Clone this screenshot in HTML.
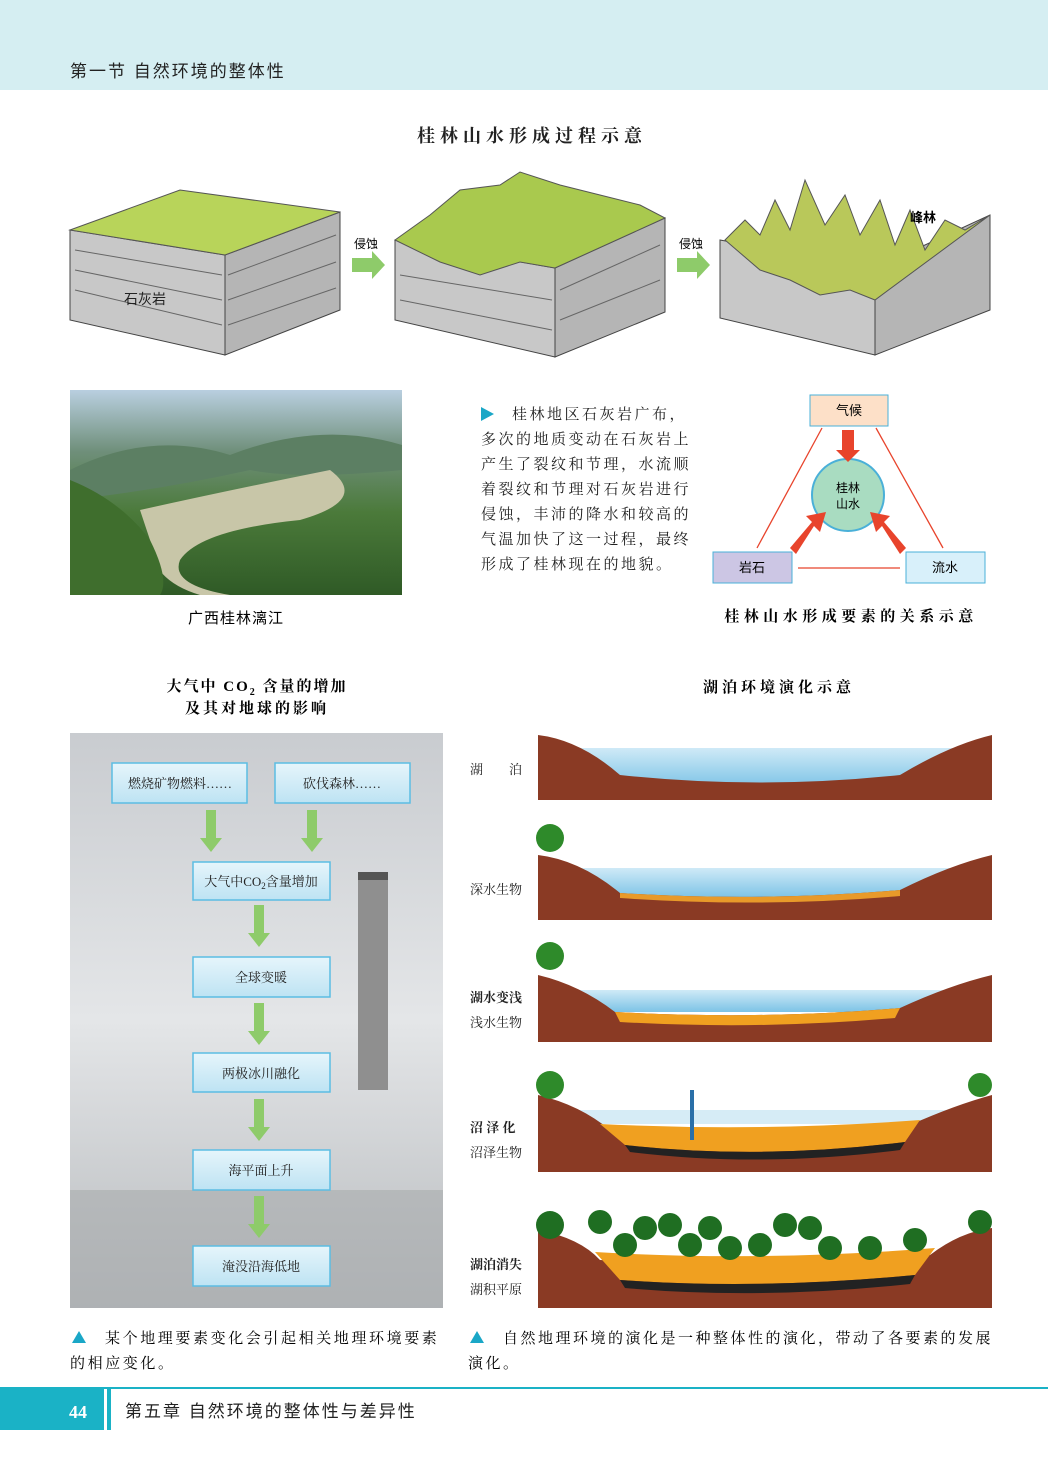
<!DOCTYPE html>
<html><head><meta charset="utf-8"><style>
html,body{margin:0;padding:0;background:#fff}
svg{display:block}
text{font-family:"Liberation Serif","Noto Serif CJK SC","Noto Sans CJK SC",serif}
.s{font-family:"Liberation Sans","Noto Sans CJK SC",sans-serif}
</style></head><body>
<svg width="1048" height="1481" viewBox="0 0 1048 1481" xmlns="http://www.w3.org/2000/svg">
<defs>
<linearGradient id="sky" x1="0" y1="0" x2="0" y2="1"><stop offset="0" stop-color="#c9ccd0"/><stop offset="0.5" stop-color="#e4e6e8"/><stop offset="1" stop-color="#b7babd"/></linearGradient>
<linearGradient id="photo" x1="0" y1="0" x2="0" y2="1"><stop offset="0" stop-color="#b9cfe0"/><stop offset="0.3" stop-color="#6f8f7a"/><stop offset="0.6" stop-color="#4b7a3a"/><stop offset="1" stop-color="#2f5a26"/></linearGradient>
<linearGradient id="water" x1="0" y1="0" x2="0" y2="1"><stop offset="0" stop-color="#cfeaf7"/><stop offset="1" stop-color="#7cc3e6"/></linearGradient>
<linearGradient id="box" x1="0" y1="0" x2="0" y2="1"><stop offset="0" stop-color="#e6f5fb"/><stop offset="1" stop-color="#bde3f3"/></linearGradient>
</defs>
<rect width="1048" height="90" fill="#d5eef2"/>
<text x="70" y="77" font-size="17" class="s" fill="#222" letter-spacing="2">第一节  自然环境的整体性</text>
<text x="532" y="142" font-size="18" text-anchor="middle" fill="#222" font-weight="bold" letter-spacing="5">桂林山水形成过程示意</text>

<!-- block 1 -->
<polygon points="70,230 225,255 225,355 70,320" fill="#c8c8c8" stroke="#444"/>
<polygon points="225,255 340,212 340,310 225,355" fill="#b5b5b5" stroke="#444"/>
<polygon points="70,230 180,190 340,212 225,255" fill="#b8d45a" stroke="#555"/>
<g stroke="#666" stroke-width="1">
<line x1="75" y1="250" x2="222" y2="275"/><line x1="75" y1="270" x2="222" y2="300"/><line x1="75" y1="290" x2="222" y2="325"/><line x1="228" y1="275" x2="336" y2="235"/><line x1="228" y1="300" x2="336" y2="262"/><line x1="228" y1="325" x2="336" y2="288"/></g>
<text x="124" y="304" font-size="14" class="s" fill="#222">石灰岩</text>
<polygon points="352,258 372,258 372,251 385,265 372,279 372,272 352,272" fill="#8ecb6a"/>
<text x="354" y="248" font-size="12" class="s">侵蚀</text>
<polygon points="677,258 697,258 697,251 710,265 697,279 697,272 677,272" fill="#8ecb6a"/>
<text x="679" y="248" font-size="12" class="s">侵蚀</text>
<!-- block 2 -->
<polygon points="395,240 555,268 555,357 395,320" fill="#c8c8c8" stroke="#444"/>
<polygon points="555,268 665,218 665,312 555,357" fill="#b5b5b5" stroke="#444"/>
<path d="M395,240 L430,215 460,190 500,185 520,172 560,185 600,195 640,205 665,218 L555,268 L520,262 480,275 440,262 Z" fill="#a9c94e" stroke="#555"/>
<g stroke="#666"><line x1="400" y1="275" x2="552" y2="300"/><line x1="400" y1="300" x2="552" y2="330"/><line x1="560" y1="290" x2="660" y2="245"/><line x1="560" y1="320" x2="660" y2="280"/></g>
<!-- block 3 -->
<polygon points="720,240 875,268 875,355 720,318" fill="#c8c8c8" stroke="#444"/>
<polygon points="875,268 990,215 990,310 875,355" fill="#b5b5b5" stroke="#444"/>
<path d="M725,240 L745,220 760,235 775,200 790,230 805,180 825,225 845,195 860,235 880,200 895,245 910,210 925,250 945,220 965,230 990,215 L875,300 L850,290 820,295 790,280 760,270 Z" fill="#b9c85a" stroke="#555"/>
<text x="910" y="222" font-size="13" class="s" font-weight="bold">峰林</text>

<!-- photo -->
<rect x="70" y="390" width="332" height="205" fill="url(#photo)"/>
<path d="M70,470 Q150,430 230,455 Q320,420 402,445 L402,470 Q300,480 250,470 Q160,490 70,500Z" fill="#5c7f63"/>
<path d="M140,510 Q230,490 330,470 Q370,500 300,520 Q200,530 180,560 Q170,585 230,595 L200,595 Q150,580 150,540Z" fill="#c8c6a8"/>
<path d="M70,480 Q120,500 150,540 Q170,580 160,595 L70,595Z" fill="#3f6e2d"/>
<text x="236" y="623" font-size="15" text-anchor="middle" class="s" letter-spacing="1">广西桂林漓江</text>

<!-- paragraph -->
<polygon points="481,407 481,421 494,414" fill="#1aa7c7"/>
<g font-size="15" fill="#222" letter-spacing="2.5">
<text x="512" y="419">桂林地区石灰岩广布，</text>
<text x="481" y="444">多次的地质变动在石灰岩上</text>
<text x="481" y="469">产生了裂纹和节理，水流顺</text>
<text x="481" y="494">着裂纹和节理对石灰岩进行</text>
<text x="481" y="519">侵蚀，丰沛的降水和较高的</text>
<text x="481" y="544">气温加快了这一过程，最终</text>
<text x="481" y="569">形成了桂林现在的地貌。</text>
</g>

<!-- triangle -->
<rect x="810" y="395" width="78" height="31" fill="#fde0c8" stroke="#4ab0d8"/>
<text x="849" y="415" font-size="13" text-anchor="middle" class="s">气候</text>
<rect x="713" y="552" width="79" height="31" fill="#ccc6e4" stroke="#4ab0d8"/>
<text x="752" y="572" font-size="13" text-anchor="middle" class="s">岩石</text>
<rect x="906" y="552" width="79" height="31" fill="#d8f0fa" stroke="#4ab0d8"/>
<text x="945" y="572" font-size="13" text-anchor="middle" class="s">流水</text>
<circle cx="848" cy="495" r="36" fill="#a9dcc1" stroke="#4ab0d8" stroke-width="2"/>
<text x="848" y="492" font-size="12" text-anchor="middle" class="s">桂林</text>
<text x="848" y="508" font-size="12" text-anchor="middle" class="s">山水</text>
<g stroke="#e8442c" stroke-width="1.3" fill="none">
<line x1="822" y1="428" x2="757" y2="548"/><line x1="876" y1="428" x2="943" y2="548"/><line x1="798" y1="568" x2="900" y2="568"/></g>
<polygon points="842,430 854,430 854,450 860,450 848,462 836,450 842,450" fill="#e8442c"/>
<polygon points="790,548 812,522 806,516 826,512 820,532 814,526 796,554" fill="#e8442c"/>
<polygon points="906,548 884,522 890,516 870,512 876,532 882,526 900,554" fill="#e8442c"/>
<text x="851" y="621" font-size="15" text-anchor="middle" font-weight="bold" letter-spacing="4.5">桂林山水形成要素的关系示意</text>

<!-- CO2 -->
<text x="257" y="691" font-size="15" text-anchor="middle" font-weight="bold" letter-spacing="2">大气中 CO<tspan font-size="10" dy="4">2</tspan><tspan dy="-4"> 含量的增加</tspan></text>
<text x="257" y="713" font-size="15" text-anchor="middle" font-weight="bold" letter-spacing="3">及其对地球的影响</text>
<rect x="70" y="733" width="373" height="575" fill="url(#sky)"/>
<rect x="358" y="875" width="30" height="215" fill="#8f8f8f"/>
<rect x="358" y="872" width="30" height="8" fill="#555"/>
<rect x="70" y="1190" width="373" height="118" fill="#a8abad" opacity="0.6"/>
<g fill="url(#box)" stroke="#5bbde3" stroke-width="1.5">
<rect x="112" y="763" width="135" height="40"/><rect x="275" y="763" width="135" height="40"/>
<rect x="193" y="862" width="137" height="38"/><rect x="193" y="957" width="137" height="40"/>
<rect x="193" y="1053" width="137" height="39"/><rect x="193" y="1150" width="137" height="40"/>
<rect x="193" y="1246" width="137" height="40"/></g>
<g font-size="13" text-anchor="middle" class="s" fill="#222">
<text x="180" y="788">燃烧矿物燃料……</text><text x="342" y="788">砍伐森林……</text>
<text x="261" y="886">大气中CO<tspan font-size="9" dy="3">2</tspan><tspan dy="-3">含量增加</tspan></text>
<text x="261" y="982">全球变暖</text><text x="261" y="1078">两极冰川融化</text>
<text x="261" y="1175">海平面上升</text><text x="261" y="1271">淹没沿海低地</text></g>
<g fill="#8ecb6a">
<polygon points="206,810 216,810 216,838 222,838 211,852 200,838 206,838"/>
<polygon points="307,810 317,810 317,838 323,838 312,852 301,838 307,838"/>
<polygon points="254,905 264,905 264,933 270,933 259,947 248,933 254,933"/>
<polygon points="254,1003 264,1003 264,1031 270,1031 259,1045 248,1031 254,1031"/>
<polygon points="254,1099 264,1099 264,1127 270,1127 259,1141 248,1127 254,1127"/>
<polygon points="254,1196 264,1196 264,1224 270,1224 259,1238 248,1224 254,1224"/></g>

<!-- lake -->
<text x="779" y="692" font-size="15" text-anchor="middle" font-weight="bold" letter-spacing="4">湖泊环境演化示意</text>
<g font-size="13" class="s" fill="#222">
<text x="470" y="774">湖　　泊</text>
<text x="470" y="894">深水生物</text>
<text x="470" y="1002" font-weight="bold">湖水变浅</text><text x="470" y="1027">浅水生物</text>
<text x="470" y="1132" font-weight="bold">沼 泽 化</text><text x="470" y="1157">沼泽生物</text>
<text x="470" y="1269" font-weight="bold">湖泊消失</text><text x="470" y="1294">湖积平原</text></g>
<rect x="538" y="748" width="454" height="40" fill="url(#water)"/>
<path d="M538,735 Q580,740 620,775 Q760,790 900,775 Q950,745 992,735 L992,800 L538,800Z" fill="#8a3a24"/>
<rect x="538" y="868" width="454" height="30" fill="url(#water)"/>
<path d="M538,855 Q580,860 620,893 Q760,902 900,890 Q950,865 992,855 L992,920 L538,920Z" fill="#8a3a24"/>
<path d="M620,893 Q760,902 900,890 L900,896 Q760,908 620,898Z" fill="#e89a2a"/>
<circle cx="550" cy="838" r="14" fill="#2e8a2a"/>
<rect x="538" y="990" width="454" height="22" fill="url(#water)"/>
<path d="M538,975 Q580,985 615,1012 Q760,1020 900,1008 Q950,985 992,975 L992,1042 L538,1042Z" fill="#8a3a24"/>
<path d="M615,1012 Q760,1020 900,1008 L895,1018 Q760,1030 620,1022Z" fill="#f0a020"/>
<circle cx="550" cy="956" r="14" fill="#2e8a2a"/>
<rect x="538" y="1110" width="454" height="14" fill="#d6ecf6"/>
<path d="M538,1095 Q580,1105 610,1130 Q760,1140 910,1125 Q955,1105 992,1095 L992,1172 L538,1172Z" fill="#8a3a24"/>
<path d="M600,1124 Q760,1132 920,1120 L905,1142 Q760,1160 625,1145Z" fill="#f0a020"/>
<path d="M625,1145 Q760,1160 905,1142 L900,1150 Q760,1168 630,1152Z" fill="#222"/>
<circle cx="550" cy="1085" r="14" fill="#2e8a2a"/><circle cx="980" cy="1085" r="12" fill="#2e8a2a"/>
<rect x="690" y="1090" width="4" height="50" fill="#2a6fa8"/>
<path d="M538,1230 Q580,1238 600,1260 Q760,1268 930,1255 Q960,1232 992,1228 L992,1308 L538,1308Z" fill="#8a3a24"/>
<path d="M595,1252 Q760,1262 935,1248 L915,1275 Q760,1290 620,1280Z" fill="#f0a020"/>
<path d="M620,1280 Q760,1290 915,1275 L910,1284 Q760,1300 625,1288Z" fill="#222"/>
<g fill="#1f6e22">
<circle cx="550" cy="1225" r="14"/><circle cx="600" cy="1222" r="12"/><circle cx="625" cy="1245" r="12"/><circle cx="645" cy="1228" r="12"/><circle cx="670" cy="1225" r="12"/><circle cx="690" cy="1245" r="12"/><circle cx="710" cy="1228" r="12"/><circle cx="730" cy="1248" r="12"/><circle cx="760" cy="1245" r="12"/><circle cx="785" cy="1225" r="12"/><circle cx="810" cy="1228" r="12"/><circle cx="830" cy="1248" r="12"/><circle cx="870" cy="1248" r="12"/><circle cx="915" cy="1240" r="12"/><circle cx="980" cy="1222" r="12"/></g>

<!-- captions -->
<polygon points="72,1343 86,1343 79,1331" fill="#1aa7c7"/>
<text x="105" y="1343" font-size="15" letter-spacing="2.6">某个地理要素变化会引起相关地理环境要素</text>
<text x="70" y="1368" font-size="15" letter-spacing="2.6">的相应变化。</text>
<polygon points="470,1343 484,1343 477,1331" fill="#1aa7c7"/>
<text x="503" y="1343" font-size="15" letter-spacing="2.5">自然地理环境的演化是一种整体性的演化，带动了各要素的发展</text>
<text x="468" y="1368" font-size="15" letter-spacing="2.5">演化。</text>

<!-- footer -->
<line x1="0" y1="1388" x2="1048" y2="1388" stroke="#1ab2c6" stroke-width="2"/>
<rect x="0" y="1388" width="104" height="42" fill="#1ab2c6"/>
<rect x="107" y="1388" width="4" height="42" fill="#1ab2c6"/>
<text x="78" y="1418" font-size="18" fill="#fff" text-anchor="middle" font-weight="bold">44</text>
<text x="125" y="1417" font-size="17" class="s" fill="#222" letter-spacing="2">第五章  自然环境的整体性与差异性</text>
</svg>
</body></html>
